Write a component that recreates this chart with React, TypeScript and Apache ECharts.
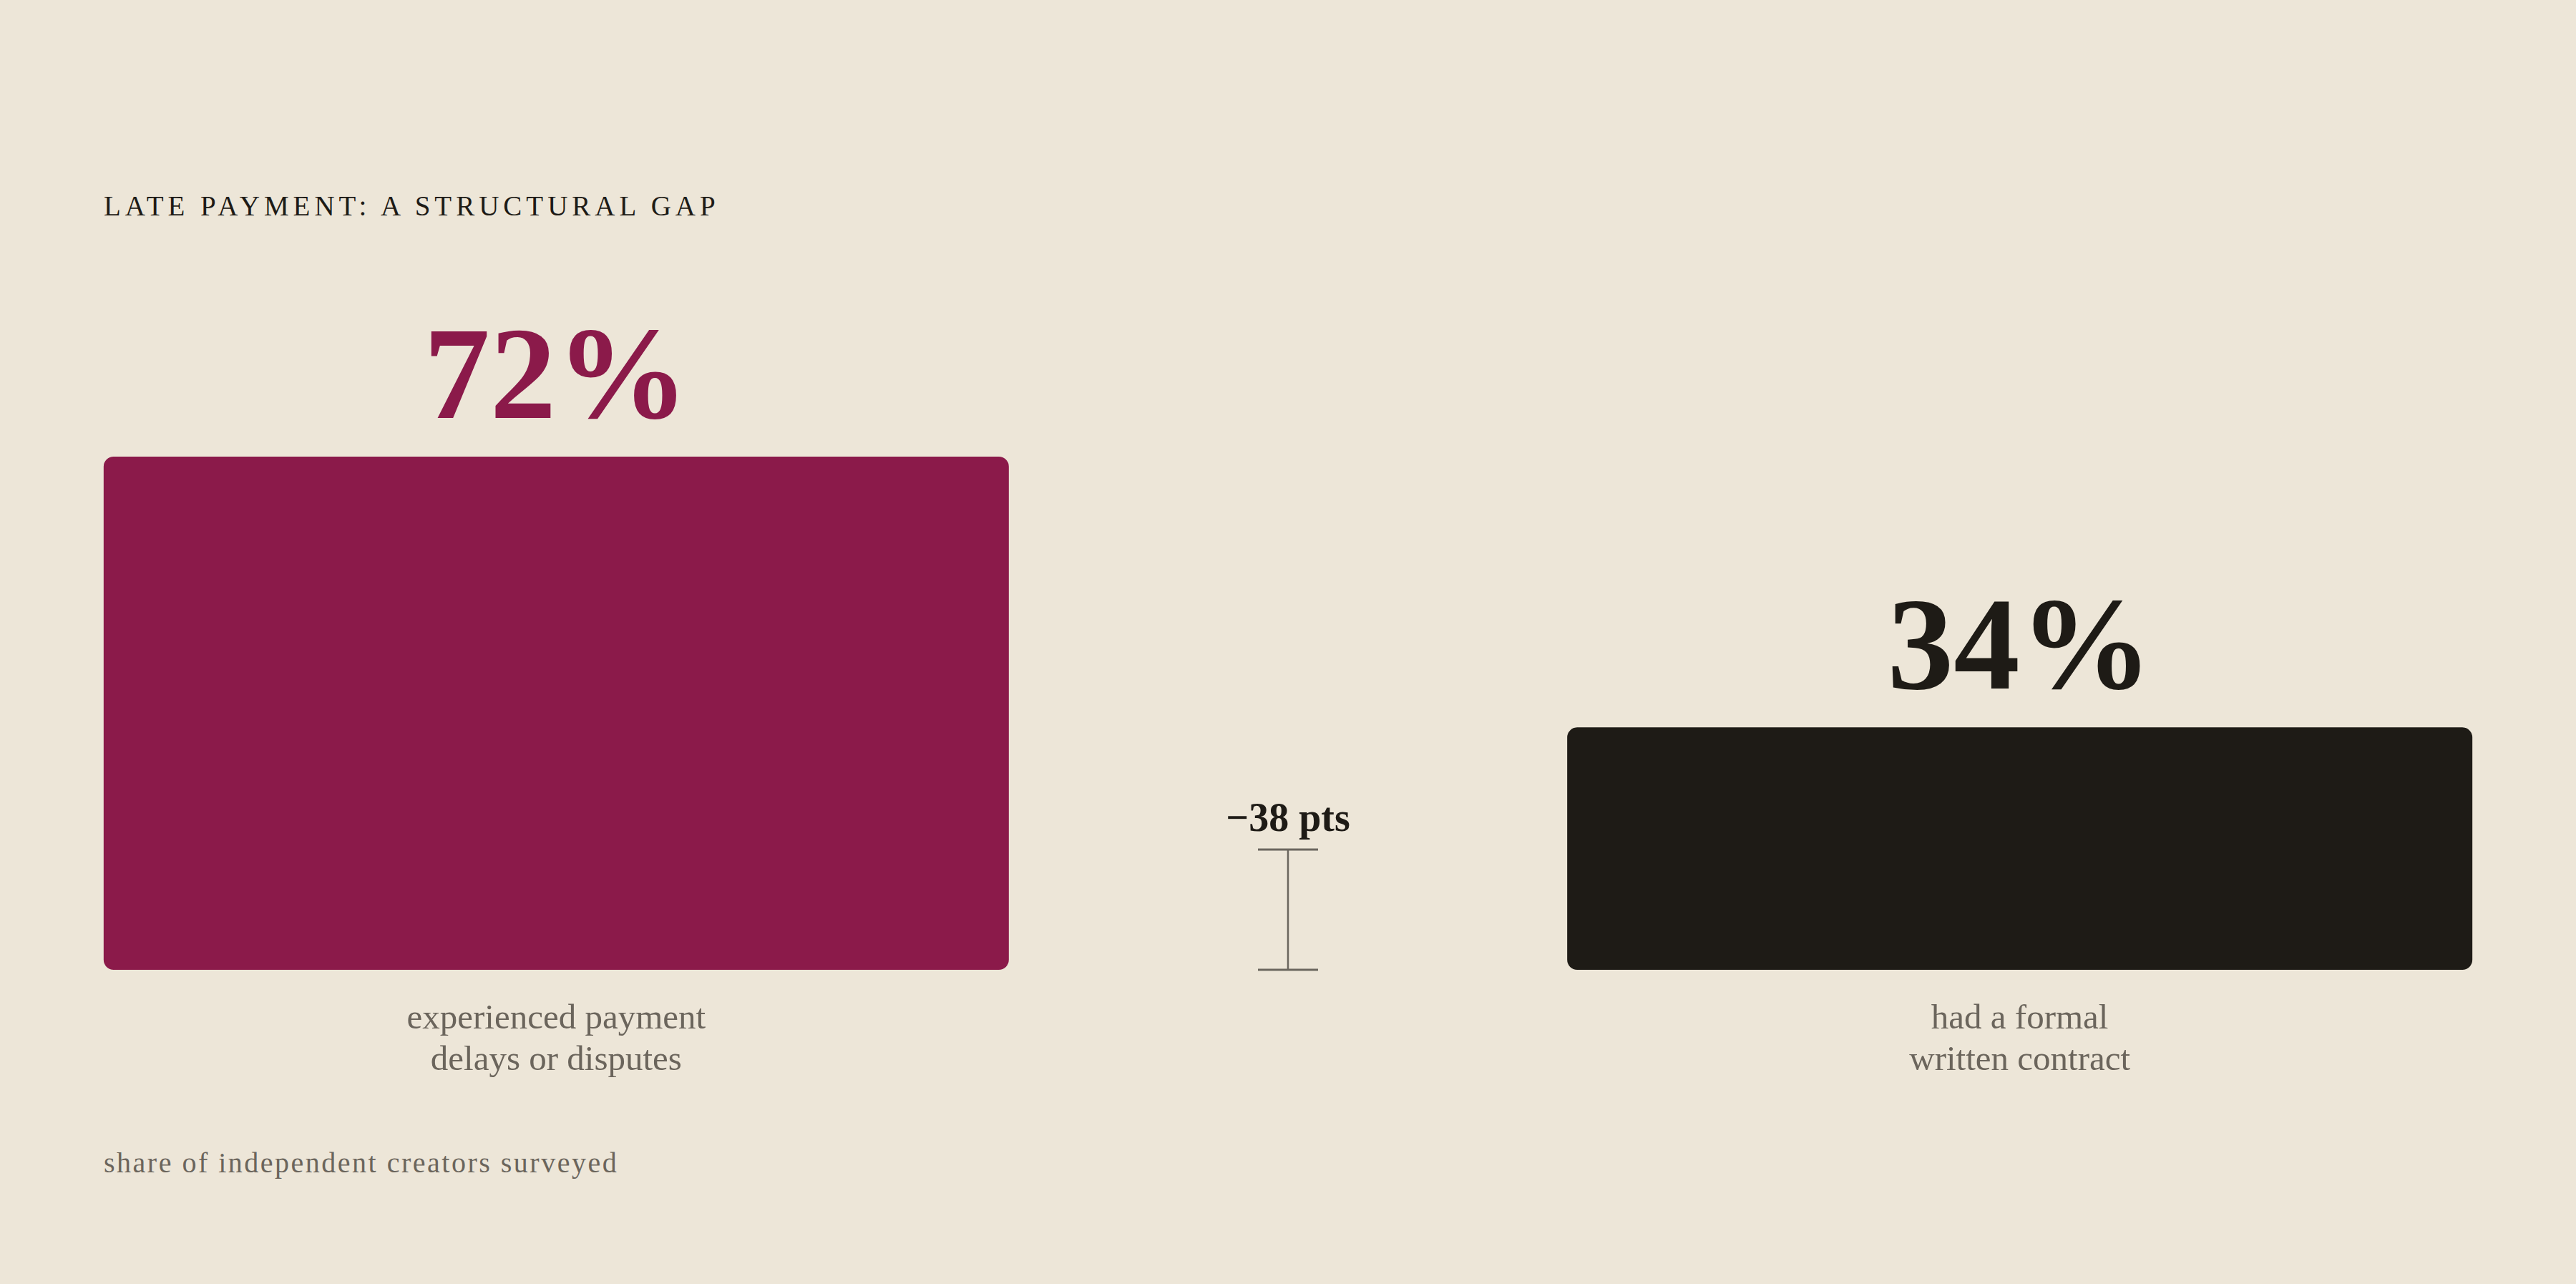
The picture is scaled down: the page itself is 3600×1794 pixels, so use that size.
import { useEffect, useRef } from "react";
import * as echarts from "echarts";

// categories along the x axis; the empty middle slot holds the gap bracket
const categories = [
  "experienced payment\ndelays or disputes",
  "",
  "had a formal\nwritten contract",
];
const shares = [72, null, 34];
const barColors = ["#8b1a4a", null, "#1e1b16"];

const TITLE = "LATE PAYMENT: A STRUCTURAL GAP";
const NOTE = "share of independent creators surveyed";

const FONT = '"Liberation Serif", "DejaVu Serif", serif';
const BG = "#ede6d8";
const INK = "#1e1b16";
const MUTED = "#6b655c";

// zrender has no letter-spacing, so set it on the rendered svg text
const spaceOut = (root: HTMLElement) => {
  root.querySelectorAll("text").forEach((t) => {
    if (t.textContent === TITLE) t.style.letterSpacing = "6px";
    if (t.textContent === NOTE) t.style.letterSpacing = "2.5px";
  });
};

const App = () => {
  const ref = useRef<HTMLDivElement | null>(null);

  useEffect(() => {
    const node = ref.current;
    if (!node) return;
    const chart = echarts.init(node, null, { renderer: "svg" });

    const gap = (shares[2] as number) - (shares[0] as number);

    chart.on("finished", () => spaceOut(node));

    chart.setOption({
      animation: false,
      backgroundColor: BG,
      title: [
        {
          text: TITLE,
          left: 145,
          top: 268,
          padding: 0,
          textStyle: { fontFamily: FONT, fontSize: 39, fontWeight: "normal", color: INK },
        },
        {
          text: NOTE,
          left: 145,
          top: 1604,
          padding: 0,
          textStyle: { fontFamily: FONT, fontSize: 40, fontWeight: "normal", color: MUTED },
        },
      ],
      grid: { left: 266, right: 266, top: 359, bottom: 439 },
      xAxis: {
        type: "category",
        data: categories,
        axisLine: { show: false },
        axisTick: { show: false },
        axisLabel: {
          margin: 36,
          fontFamily: FONT,
          fontSize: 49,
          lineHeight: 58,
          color: MUTED,
          interval: 0,
        },
      },
      yAxis: {
        type: "value",
        min: 0,
        max: 100,
        show: false,
        splitLine: { show: false },
      },
      series: [
        {
          type: "bar",
          barWidth: 1265,
          clip: false,
          data: shares.map((v, i) =>
            v == null
              ? "-"
              : {
                  value: v,
                  itemStyle: { color: barColors[i], borderRadius: 14 },
                  label: { color: barColors[i] },
                },
          ),
          label: {
            show: true,
            position: "top",
            distance: 24,
            formatter: "{c}%",
            fontFamily: FONT,
            fontSize: 185,
            fontWeight: "bold",
          },
        },
        {
          type: "custom",
          clip: false,
          data: [[1, gap]],
          encode: { x: 0, y: 1 },
          renderItem: (_params: any, api: any) => {
            const [x, y0] = api.coord([api.value(0), 0]);
            const h = 168;
            const half = 42;
            const top = y0 - h;
            const stroke = "#6b665e";
            return {
              type: "group",
              children: [
                {
                  type: "line",
                  shape: { x1: x, y1: top, x2: x, y2: y0 },
                  style: { stroke, lineWidth: 2.5 },
                },
                {
                  type: "line",
                  shape: { x1: x - half, y1: top, x2: x + half, y2: top },
                  style: { stroke, lineWidth: 3 },
                },
                {
                  type: "line",
                  shape: { x1: x - half, y1: y0, x2: x + half, y2: y0 },
                  style: { stroke, lineWidth: 3 },
                },
                {
                  type: "text",
                  x,
                  y: top - 45,
                  style: {
                    text: `\u2212${Math.abs(api.value(1))} pts`,
                    fill: INK,
                    fontFamily: FONT,
                    fontSize: 56,
                    fontWeight: "bold",
                    align: "center",
                    verticalAlign: "middle",
                  },
                },
              ],
            };
          },
        },
      ],
    });
    spaceOut(node);

    const handleResize = () => chart.resize();
    window.addEventListener("resize", handleResize);
    return () => {
      window.removeEventListener("resize", handleResize);
      chart.dispose();
    };
  }, []);

  return (
    <div
      ref={ref}
      style={{ position: "fixed", left: 0, top: 0, width: "100vw", height: "100vh" }}
    />
  );
};

export default App;
